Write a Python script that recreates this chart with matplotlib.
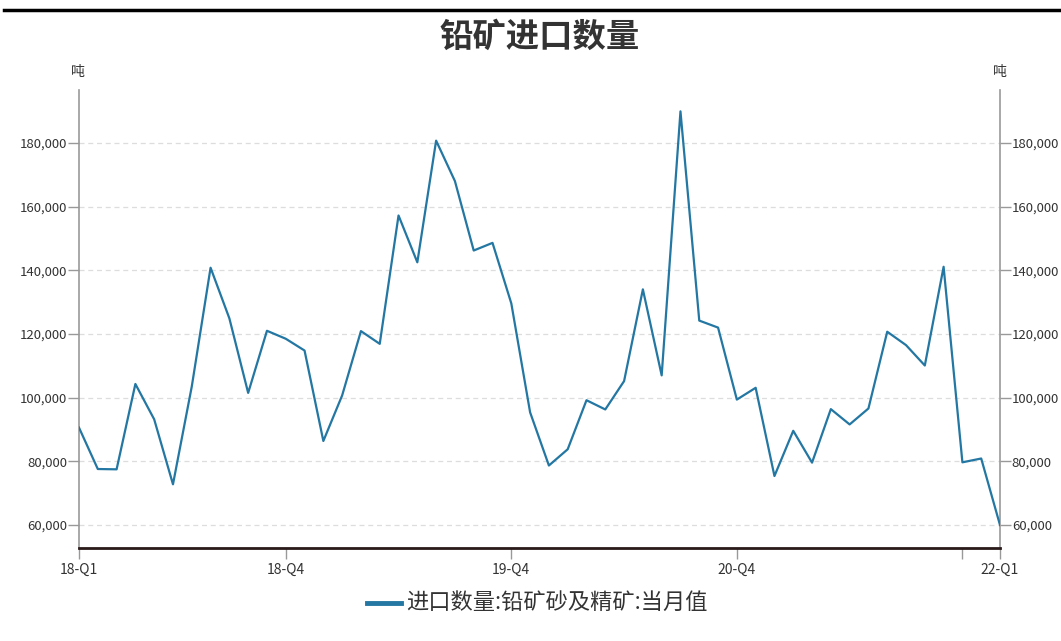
import matplotlib
matplotlib.use("Agg")
import matplotlib.pyplot as plt
from matplotlib.lines import Line2D
from matplotlib.ticker import FuncFormatter, FixedLocator

plt.rcParams['font.family'] = ['Noto Sans CJK SC', 'DejaVu Sans']

title = "铅矿进口数量"
unit = "吨"
series_name = "进口数量:铅矿砂及精矿:当月值"

values = [90600, 77600, 77500, 104300, 93200, 72800, 103500, 140800, 124900, 101500,
          121000, 118500, 114800, 86400, 100700, 120900, 116900, 157200, 142500, 180700,
          168000, 146200, 148600, 129600, 95400, 78700, 83800, 99200, 96300, 105200,
          134000, 107000, 189900, 124200, 122000, 99400, 103100, 75400, 89600, 79600,
          96400, 91600, 96600, 120700, 116500, 110100, 141100, 79700, 80900, 60000]

tick_pos = [0, 11, 23, 35, 47, 49]
tick_labels = ["18-Q1", "18-Q4", "19-Q4", "20-Q4", "", "22-Q1"]
y_ticks = [60000, 80000, 100000, 120000, 140000, 160000, 180000]

W, H = 1061, 641
fig = plt.figure(figsize=(W / 100, H / 100), dpi=100)
ax = fig.add_axes([79 / W, (H - 548) / H, (1000 - 79) / W, (548 - 90) / H])

line_color = '#2377a2'
text_color = '#333333'
axis_gray = '#999999'

ax.plot(range(len(values)), values, color=line_color, lw=1.6, zorder=3)
ax.set_xlim(0, len(values) - 1)
ax.set_ylim(52800, 196600)

ax.yaxis.set_major_locator(FixedLocator(y_ticks))
ax.yaxis.set_major_formatter(FuncFormatter(lambda v, p: f"{int(v):,}"))
ax.grid(axis='y', color='#dddddd', ls=(0, (4, 3)), lw=0.9)
ax.set_axisbelow(True)

ax.set_xticks(tick_pos)
ax.set_xticklabels(tick_labels)

ax.spines['top'].set_visible(False)
ax.spines['left'].set_color(axis_gray)
ax.spines['right'].set_color(axis_gray)
ax.spines['left'].set_linewidth(1.2)
ax.spines['right'].set_linewidth(1.2)
ax.spines['bottom'].set_color('#2a1a1a')
ax.spines['bottom'].set_linewidth(2)

ax.tick_params(axis='y', which='both', left=True, right=True, labelleft=True,
               labelright=True, length=8, width=1, color=axis_gray,
               labelsize=9.5, labelcolor=text_color, pad=0.5)
ax.tick_params(axis='x', length=8, width=1, color=axis_gray,
               labelsize=10, labelcolor=text_color, pad=3)

fig.text(540 / W, 1 - 37 / H, title, ha='center', va='center', fontsize=24,
         fontweight='bold', color=text_color)
fig.text(78 / W, 1 - 72 / H, unit, ha='center', va='center', fontsize=10, color=text_color)
fig.text(1000 / W, 1 - 72 / H, unit, ha='center', va='center', fontsize=10, color=text_color)

fig.add_artist(Line2D([4 / W, 1], [1 - 10 / H, 1 - 10 / H], color='black', lw=2.5))

fig.add_artist(Line2D([367 / W, 401 / W], [1 - 603 / H, 1 - 603 / H], color=line_color, lw=3.5))
fig.text(406 / W, 1 - 602 / H, series_name, ha='left', va='center', fontsize=16, color=text_color)

fig.savefig("out.png", dpi=100)
